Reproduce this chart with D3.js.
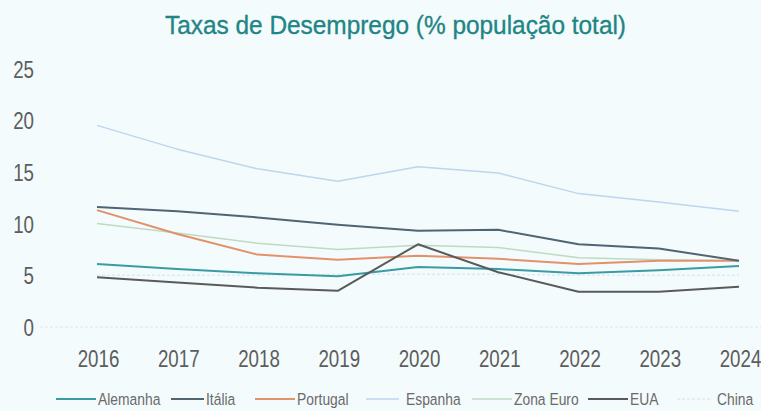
<!DOCTYPE html>
<html><head><meta charset="utf-8">
<script src="https://cdn.jsdelivr.net/npm/d3@7"></script>
<style>
html,body{margin:0;padding:0;background:#f4fbfc;}
svg{display:block;}
</style></head>
<body>
<svg id="c" width="761" height="411"></svg>
<script>
const years = ["2016","2017","2018","2019","2020","2021","2022","2023","2024"];
const yTicks = [0,5,10,15,20,25];
const seriesNames = ["Alemanha","Itália","Portugal","Espanha","Zona Euro","EUA","China"];
const alemanha = [6.1,5.6,5.2,4.9,5.8,5.6,5.2,5.5,5.9];
const italia   = [11.6,11.2,10.6,9.9,9.3,9.4,8.0,7.6,6.4];
const portugal = [11.3,9.0,7.0,6.5,6.9,6.6,6.1,6.4,6.4];
const espanha  = [19.5,17.2,15.3,14.1,15.5,14.9,12.9,12.1,11.2];
const zonaEuro = [10.0,9.1,8.1,7.5,7.9,7.7,6.7,6.5,6.4];
const eua      = [4.8,4.3,3.8,3.5,8.0,5.3,3.4,3.4,3.9];
const china    = [5.0,5.0,5.0,5.1,5.1,5.1,5.0,5.0,5.0];

const data = [alemanha,italia,portugal,espanha,zonaEuro,eua,china];
const colors = ["#3a9ca3","#4f6574","#e2916a","#bcd6ef","#bedbc2","#5a5a5a","#dbeaf3"];
const widths = [2,2,2,1.5,1.5,2,1.5];
const dashes = [null,null,null,null,null,null,"3,2"];

const svg = d3.select("#c");
const font = "'Liberation Sans',Arial,sans-serif";

const x = d3.scalePoint().domain(years).range([97,739]);
const y = d3.scaleLinear().domain([0,25]).range([327,68.5]);

// title
svg.append("text").attr("x",165).attr("y",33.5)
  .attr("font-family",font).attr("font-size",26.5).attr("fill","#1f8585")
  .attr("stroke","#1f8585").attr("stroke-width",0.35)
  .attr("textLength",461).attr("lengthAdjust","spacingAndGlyphs")
  .text("Taxas de Desemprego (% população total)");

// zero gridline
svg.append("line").attr("x1",40).attr("x2",761).attr("y1",y(0)).attr("y2",y(0))
  .attr("stroke","#dce8ef").attr("stroke-width",1).attr("stroke-dasharray","3,2");

// y axis
const yAxis = d3.axisLeft(y).tickValues(yTicks).tickSize(0).tickPadding(0);
const gy = svg.append("g").attr("transform","translate(34,0)").call(yAxis);
gy.select(".domain").remove();
gy.selectAll("text").attr("font-family",font).attr("font-size",24).attr("fill","#5d5d5d")
  .attr("dy","0.36em").attr("transform","scale(0.78,1)");

// x axis
const xAxis = d3.axisBottom(x).tickSize(0).tickPadding(0);
const gx = svg.append("g").attr("transform","translate(0,366.5)").call(xAxis);
gx.select(".domain").remove();
gx.selectAll("text").attr("font-family",font).attr("font-size",24).attr("fill","#5d5d5d")
  .attr("dy","0").attr("y",0).attr("transform","translate(1,0) scale(0.78,1)");

// lines
const line = d3.line().x((d,i)=>x(years[i])).y(d=>y(d));
const order = [6,3,4,0,2,1,5];
order.forEach(i=>{
  svg.append("path").datum(data[i]).attr("d",line)
    .attr("fill","none").attr("stroke",colors[i]).attr("stroke-width",widths[i])
    .attr("stroke-dasharray",dashes[i]).attr("stroke-linejoin","round");
});

// legend
const legX = [56,171,255,366,472,588,677];
const lg = svg.append("g");
seriesNames.forEach((n,i)=>{
  const lw = (i===1||i===3||i===6)?33:40;
  lg.append("line").attr("x1",legX[i]).attr("x2",legX[i]+lw).attr("y1",399).attr("y2",399)
    .attr("stroke",colors[i]).attr("stroke-width",widths[i]).attr("stroke-dasharray",dashes[i]);
  const tx = legX[i]+lw+2+(i===3||i===6?5:0);
  lg.append("text").attr("transform",`translate(${tx},405) scale(0.84,1)`)
    .attr("font-family",font).attr("font-size",16.5).attr("fill","#6a6a6a").text(n);
});
</script>
</body></html>
